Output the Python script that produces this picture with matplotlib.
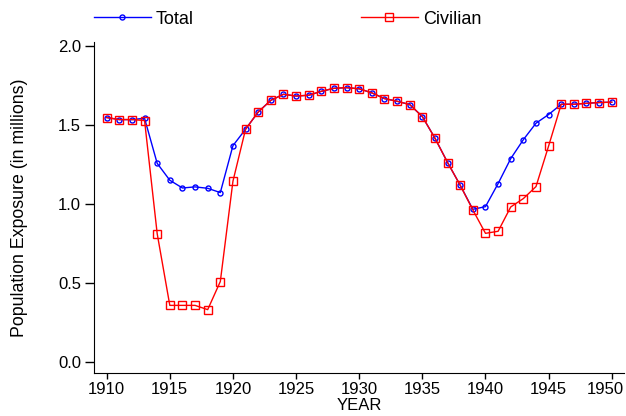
import matplotlib.pyplot as plt
from matplotlib.transforms import ScaledTranslation

plt.rcParams['font.family'] = ['Liberation Sans', 'DejaVu Sans']

years = list(range(1910, 1951))
total = [1.549, 1.536, 1.536, 1.544, 1.259, 1.152, 1.103, 1.110, 1.101, 1.074,
         1.371, 1.475, 1.584, 1.658, 1.696, 1.685, 1.690, 1.715, 1.734, 1.738,
         1.731, 1.705, 1.669, 1.652, 1.631, 1.555, 1.418, 1.264, 1.120, 0.968,
         0.985, 1.131, 1.289, 1.409, 1.513, 1.568, 1.633, 1.633, 1.639, 1.644,
         1.646]
civilian = [1.549, 1.536, 1.536, 1.530, 0.814, 0.360, 0.360, 0.360, 0.333, 0.511,
            1.146, 1.475, 1.584, 1.658, 1.696, 1.685, 1.690, 1.715, 1.734, 1.738,
            1.731, 1.705, 1.669, 1.652, 1.631, 1.555, 1.418, 1.264, 1.120, 0.964,
            0.816, 0.829, 0.983, 1.036, 1.112, 1.369, 1.633, 1.633, 1.639, 1.644,
            1.646]

W, H = 626, 416
fig = plt.figure(figsize=(W/100, H/100), dpi=100)
# axes box in pixels: left 94, right 624, top 42, bottom 373
ax = fig.add_axes([94.3/W, 1-373/H, (624-94.3)/W, (373-42)/H])

ax.plot(years, total, color='blue', lw=1, marker='o', ms=3.6, mfc='none',
        mec='blue', mew=1, label='Total')
ax.plot(years, civilian, color='red', lw=1, marker='s', ms=5.2, mfc='none',
        mec='red', mew=1, label='Civilian')

ax.set_xlim(1909.02, 1950.97)
ax.set_ylim(-0.068, 2.027)
ax.set_xticks(range(1910, 1951, 5))
ax.set_yticks([0.0, 0.5, 1.0, 1.5, 2.0])
ax.set_yticklabels(['0.0', '0.5', '1.0', '1.5', '2.0'])
ax.tick_params(axis='x', labelsize=12, length=4.3, width=1, pad=2)
ax.tick_params(axis='y', labelsize=12, length=6.5, width=1, pad=3)
ax.spines['top'].set_visible(False)
ax.spines['right'].set_visible(False)

# last year label is pulled inside the figure, as in the original
fig.canvas.draw()
last = ax.get_xticklabels()[-1]
last.set_transform(last.get_transform() + ScaledTranslation(-0.06, 0, fig.dpi_scale_trans))

ax.set_xlabel('YEAR', fontsize=12)
ax.set_ylabel('Population Exposure (in millions)', fontsize=12.8)
ax.xaxis.set_label_coords(0.5, -(398-373)/331)
ax.yaxis.set_label_coords(-(94.3-28)/529.7, 0.5)

fig.legend(loc='center left', bbox_to_anchor=(94/W, 1-19/H), ncol=2,
           frameon=False, fontsize=13, handlelength=3.15, handletextpad=0.28,
           columnspacing=9.25, borderpad=0, borderaxespad=0)

fig.savefig('out.png', dpi=100)
